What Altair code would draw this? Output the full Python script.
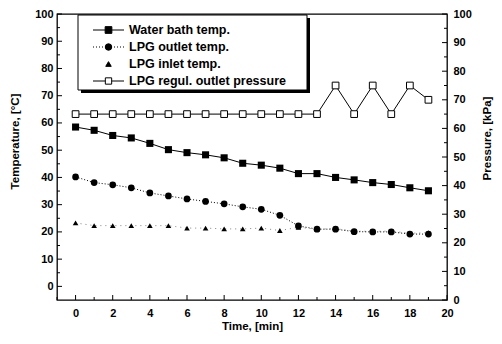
import altair as alt
import pandas as pd

# ---------------- data ----------------
time_min = list(range(20))
water_bath = [58.5, 57.3, 55.4, 54.5, 52.5, 50.2, 49.1, 48.3, 47.2, 45.2,
              44.5, 43.4, 41.4, 41.4, 40.0, 39.1, 38.1, 37.4, 36.2, 35.1]
lpg_outlet = [40.2, 38.1, 37.3, 36.2, 34.3, 33.2, 32.1, 31.2, 30.3, 29.2,
              28.3, 26.1, 22.2, 21.0, 21.0, 20.1, 20.0, 20.0, 19.2, 19.2]
lpg_inlet = [23.3, 22.3, 22.3, 22.3, 22.3, 22.3, 21.4, 21.4, 21.1, 21.1,
             21.4, 20.5, 21.7, 21.0, 21.2, 20.3, 20.2, 20.3, 19.5, 19.7]
pressure = [65, 65, 65, 65, 65, 65, 65, 65, 65, 65,
            65, 65, 65, 65, 75, 65, 75, 65, 75, 70]

legend_labels = ["Water bath temp.", "LPG outlet temp.", "LPG inlet temp.",
                 "LPG regul. outlet pressure"]

x_major = list(range(0, 21, 2))
x_minor = list(range(-1, 20, 2))
temp_major = list(range(0, 101, 10))
temp_minor = list(range(5, 100, 10))
pres_major = list(range(0, 101, 10))
pres_minor = list(range(5, 100, 10))

df = pd.DataFrame({"time": time_min, "water": water_bath, "outlet": lpg_outlet,
                   "inlet": lpg_inlet, "pressure": pressure})

# ---------------- layout ----------------
W, H = 390, 286
TOP = 6
FONT = "Liberation Sans"

xs = alt.Scale(domain=[-1, 20], nice=False, zero=False)
ys_t = alt.Scale(domain=[-5, 100], nice=False, zero=False)
ys_p = alt.Scale(domain=[0, 100], nice=False, zero=False)

x_axis = alt.Axis(values=x_major, title="Time, [min]", ticks=False, domain=False,
                  grid=False, labelPadding=7, labelFlush=False, labelOverlap=False,
                  titleX=W / 2, titleY=26, titleAlign="center", titleBaseline="middle")
t_axis = alt.Axis(values=temp_major, title="Temperature, [°C]", ticks=False,
                  domain=False, grid=False, labelPadding=4, labelFlush=False,
                  labelOverlap=False, titleX=-42, titleY=141 - 8 - TOP, titleAngle=270,
                  titleAlign="center", titleBaseline="middle")
p_axis = alt.Axis(values=pres_major, orient="right", title="Pressure, [kPa]",
                  ticks=False, domain=False, grid=False, labelPadding=6,
                  labelFlush=False, labelOverlap=False, titleX=40, titleY=138 - 8 - TOP,
                  titleAngle=270, titleAlign="center", titleBaseline="middle")

X = alt.X("time:Q", scale=xs, axis=x_axis)
base = alt.Chart(df)

water_line = base.mark_line(color="black", strokeWidth=1).encode(
    x=X, y=alt.Y("water:Q", scale=ys_t, axis=t_axis))
water_pts = base.mark_point(shape="square", filled=True, color="black", size=50,
                            opacity=1).encode(
    x=X, y=alt.Y("water:Q", scale=ys_t, axis=t_axis))
outlet_line = base.mark_line(color="black", strokeWidth=1, strokeDash=[1, 2]).encode(
    x=X, y=alt.Y("outlet:Q", scale=ys_t, axis=t_axis))
outlet_pts = base.mark_point(shape="circle", filled=True, color="black", size=45,
                             opacity=1).encode(
    x=X, y=alt.Y("outlet:Q", scale=ys_t, axis=t_axis))
inlet_line = base.mark_line(color="black", strokeWidth=0.7, strokeDash=[1, 4],
                            opacity=0.7).encode(
    x=X, y=alt.Y("inlet:Q", scale=ys_t, axis=t_axis))
inlet_pts = base.mark_point(shape="triangle-up", filled=True, color="black", size=32,
                            opacity=1).encode(
    x=X, y=alt.Y("inlet:Q", scale=ys_t, axis=t_axis))

# inside ticks
def tick_layer(values, enc):
    return alt.Chart(pd.DataFrame({"v": values})).mark_rule(
        color="black", strokeWidth=1).encode(**enc)

xt_major = tick_layer(x_major, dict(x=alt.X("v:Q", scale=xs, axis=x_axis),
                                    y=alt.value(H), y2=alt.value(H - 5)))
xt_minor = tick_layer(x_minor, dict(x=alt.X("v:Q", scale=xs, axis=x_axis),
                                    y=alt.value(H), y2=alt.value(H - 3)))
tt_major = tick_layer(temp_major, dict(y=alt.Y("v:Q", scale=ys_t, axis=t_axis),
                                       x=alt.value(0), x2=alt.value(5)))
tt_minor = tick_layer(temp_minor, dict(y=alt.Y("v:Q", scale=ys_t, axis=t_axis),
                                       x=alt.value(0), x2=alt.value(3)))

temp_layer = alt.layer(inlet_line, outlet_line, water_line, inlet_pts, outlet_pts,
                       water_pts, xt_major, xt_minor, tt_major, tt_minor)

pres_line = base.mark_line(color="black", strokeWidth=1).encode(
    x=X, y=alt.Y("pressure:Q", scale=ys_p, axis=p_axis))
pres_pts = base.mark_point(shape="square", filled=True, fill="white", stroke="black",
                           strokeWidth=1, size=45, opacity=1).encode(
    x=X, y=alt.Y("pressure:Q", scale=ys_p, axis=p_axis))
pt_major = tick_layer(pres_major, dict(y=alt.Y("v:Q", scale=ys_p, axis=p_axis),
                                       x=alt.value(W), x2=alt.value(W - 5)))
pt_minor = tick_layer(pres_minor, dict(y=alt.Y("v:Q", scale=ys_p, axis=p_axis),
                                       x=alt.value(W), x2=alt.value(W - 3)))

# ---------------- legend ----------------
one = pd.DataFrame({"k": [0]})
BX0, BX1, BY0, BY1 = 21, 250, 1, 76
legend_layers = [
    alt.Chart(one).mark_rect(color="black").encode(
        x=alt.value(BX0 + 3), x2=alt.value(BX1 + 3),
        y=alt.value(BY0 + 3), y2=alt.value(BY1 + 3)),
    alt.Chart(one).mark_rect(fill="white", stroke="black", strokeWidth=1).encode(
        x=alt.value(BX0), x2=alt.value(BX1), y=alt.value(BY0), y2=alt.value(BY1)),
]
row_styles = [
    dict(line=True, dash=[1, 0], shape="square", fill="black", size=45),
    dict(line=True, dash=[1, 2], shape="circle", fill="black", size=42),
    dict(line=False, dash=[1, 0], shape="triangle-up", fill="black", size=30),
    dict(line=True, dash=[1, 0], shape="square", fill="white", size=40),
]
for i, (lab, st) in enumerate(zip(legend_labels, row_styles)):
    yy = 16 + 17 * i
    d = pd.DataFrame({"label": [lab]})
    if st["line"]:
        legend_layers.append(alt.Chart(d).mark_rule(
            color="black", strokeWidth=1, strokeDash=st["dash"]).encode(
            x=alt.value(36), x2=alt.value(67), y=alt.value(yy)))
    legend_layers.append(alt.Chart(d).mark_point(
        shape=st["shape"], filled=True, fill=st["fill"], stroke="black",
        strokeWidth=1, size=st["size"], opacity=1).encode(
        x=alt.value(51.5), y=alt.value(yy)))
    legend_layers.append(alt.Chart(d).mark_text(
        align="left", baseline="middle", font=FONT, fontSize=12.5,
        fontWeight="bold", color="black").encode(
        x=alt.value(72), y=alt.value(yy), text="label:N"))

pres_layer = alt.layer(pres_line, pres_pts, pt_major, pt_minor, *legend_layers)

chart = alt.layer(temp_layer, pres_layer).resolve_scale(y="independent").properties(
    width=W, height=H,
    autosize=alt.AutoSizeParams(type="none"),
    padding={"left": 49, "top": TOP, "right": 47, "bottom": 36},
).configure_view(stroke="black", strokeWidth=1.3).configure_axis(
    labelFont=FONT, titleFont=FONT, labelFontSize=11, titleFontSize=11.5,
    labelFontWeight="bold", titleFontWeight="bold",
    labelColor="black", titleColor="black",
)

chart.save("out.html", embed_options={"renderer": "svg", "actions": False})
